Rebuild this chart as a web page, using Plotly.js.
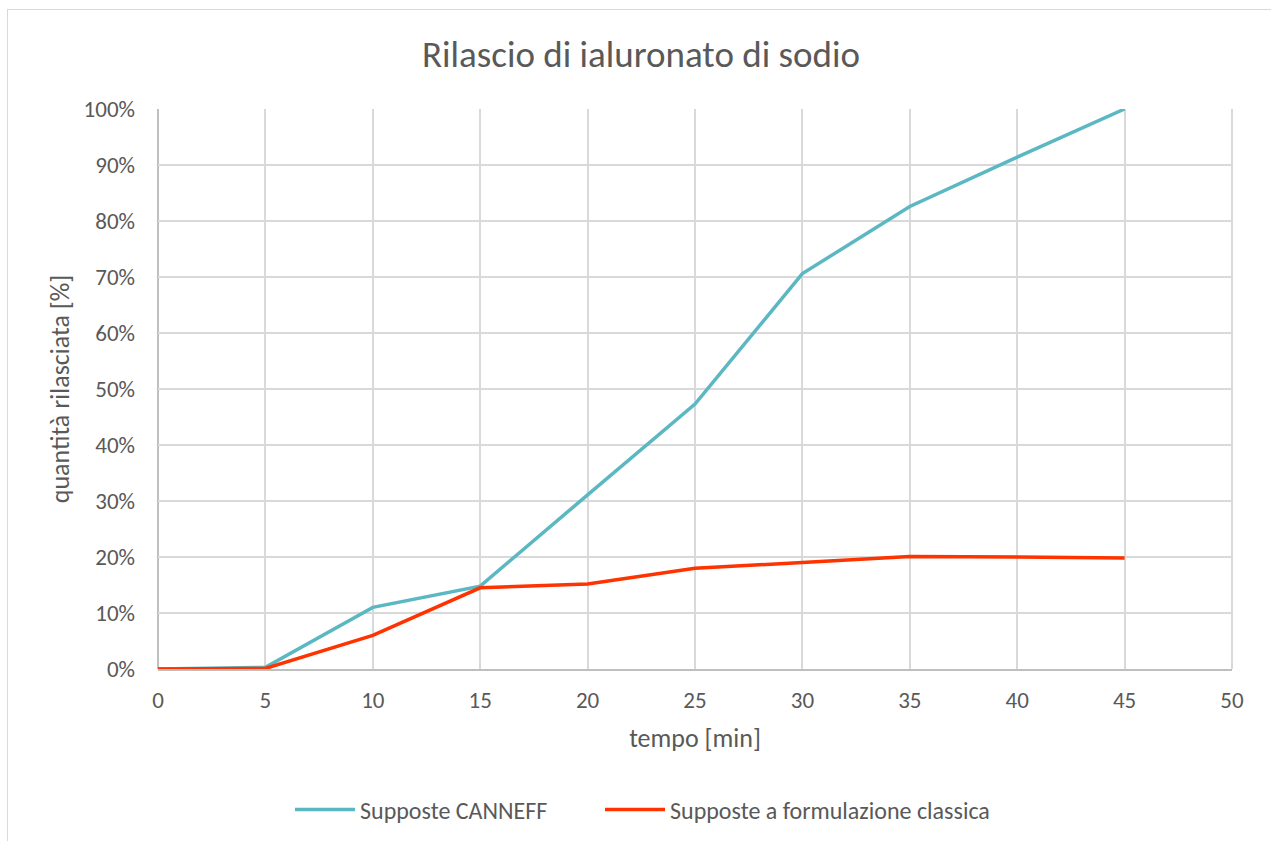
<!DOCTYPE html>
<html>
<head>
<meta charset="utf-8">
<script src="https://cdn.plot.ly/plotly-3.0.1.min.js"></script>
<style>
  html, body { margin: 0; padding: 0; background: #ffffff; overflow: hidden; }
  #chart { position: absolute; left: 7px; top: 9px; width: 1280px; height: 850px;
           border: 1px solid #d9d9d9; box-sizing: border-box; }
</style>
</head>
<body>
<div id="chart"></div>
<script>
const tempo = [0, 5, 10, 15, 20, 25, 30, 35, 40, 45];
const canneff = [0, 0.3, 11.0, 14.8, 31.1, 47.3, 70.6, 82.6, 91.4, 100];
const classica = [0, 0.1, 6.0, 14.5, 15.2, 18.0, 19.0, 20.1, 20.0, 19.8];
const seriesNames = ["Supposte CANNEFF", "Supposte a formulazione classica"];
const yTicks = [0, 10, 20, 30, 40, 50, 60, 70, 80, 90, 100];
const xTicks = [0, 5, 10, 15, 20, 25, 30, 35, 40, 45, 50];

const font = "Carlito, Lato, 'Open Sans', sans-serif";
const grey = "#595959";

const traces = [
  { x: tempo, y: canneff, name: seriesNames[0], type: "scatter", mode: "lines",
    line: { color: "#5BB8C2", width: 3.5 }, legend: "legend" },
  { x: tempo, y: classica, name: seriesNames[1], type: "scatter", mode: "lines",
    line: { color: "#FF3300", width: 3.5 }, legend: "legend2" }
];

const legendBase = { orientation: "h", xref: "container", xanchor: "left",
                     yref: "container", y: 1 - 800/850, yanchor: "middle",
                     font: { size: 24, color: grey }, itemwidth: 60 };

const layout = {
  width: 1280, height: 850,
  margin: { l: 150, r: 56, t: 99, b: 191 },
  paper_bgcolor: "rgba(0,0,0,0)",
  plot_bgcolor: "#ffffff",
  font: { family: font, color: grey, size: 23 },
  title: { text: "Rilascio di ialuronato di sodio", font: { family: font, size: 37, color: grey },
           x: (640 - 7) / 1280, xref: "container", xanchor: "center", y: 1 - 44/850, yref: "container", yanchor: "middle" },
  xaxis: {
    range: [0, 50], tickvals: xTicks, ticktext: xTicks.map(String),
    showgrid: true, gridcolor: "#d9d9d9", gridwidth: 2,
    showline: true, linecolor: "#bfbfbf", linewidth: 2, mirror: false,
    zeroline: false, ticks: "", ticklabelstandoff: 9,
    tickfont: { size: 23, color: grey },
    title: { text: "tempo [min]", font: { size: 26, color: grey }, standoff: 16 }
  },
  yaxis: {
    range: [0, 100], tickvals: yTicks, ticktext: yTicks.map(v => v + "%"),
    showgrid: true, gridcolor: "#d9d9d9", gridwidth: 2,
    showline: false, zeroline: false, ticks: "", ticklabelstandoff: 22,
    tickfont: { size: 23, color: grey },
    title: { text: "quantità rilasciata [%]", font: { size: 26, color: grey }, standoff: 6 }
  },
  shapes: [
    { type: "line", xref: "paper", yref: "paper", x0: 1, x1: 1, y0: 0, y1: 1,
      line: { color: "#d9d9d9", width: 2 }, layer: "below" },
    { type: "line", xref: "paper", yref: "paper", x0: 0, x1: 0, y0: 0, y1: 1,
      line: { color: "#bfbfbf", width: 2 }, layer: "below" }
  ],
  showlegend: true,
  legend: Object.assign({}, legendBase, { x: (289 - 7) / 1280 }),
  legend2: Object.assign({}, legendBase, { x: (599 - 7) / 1280 })
};

Plotly.newPlot("chart", traces, layout, { displayModeBar: false, staticPlot: true });
</script>
</body>
</html>
